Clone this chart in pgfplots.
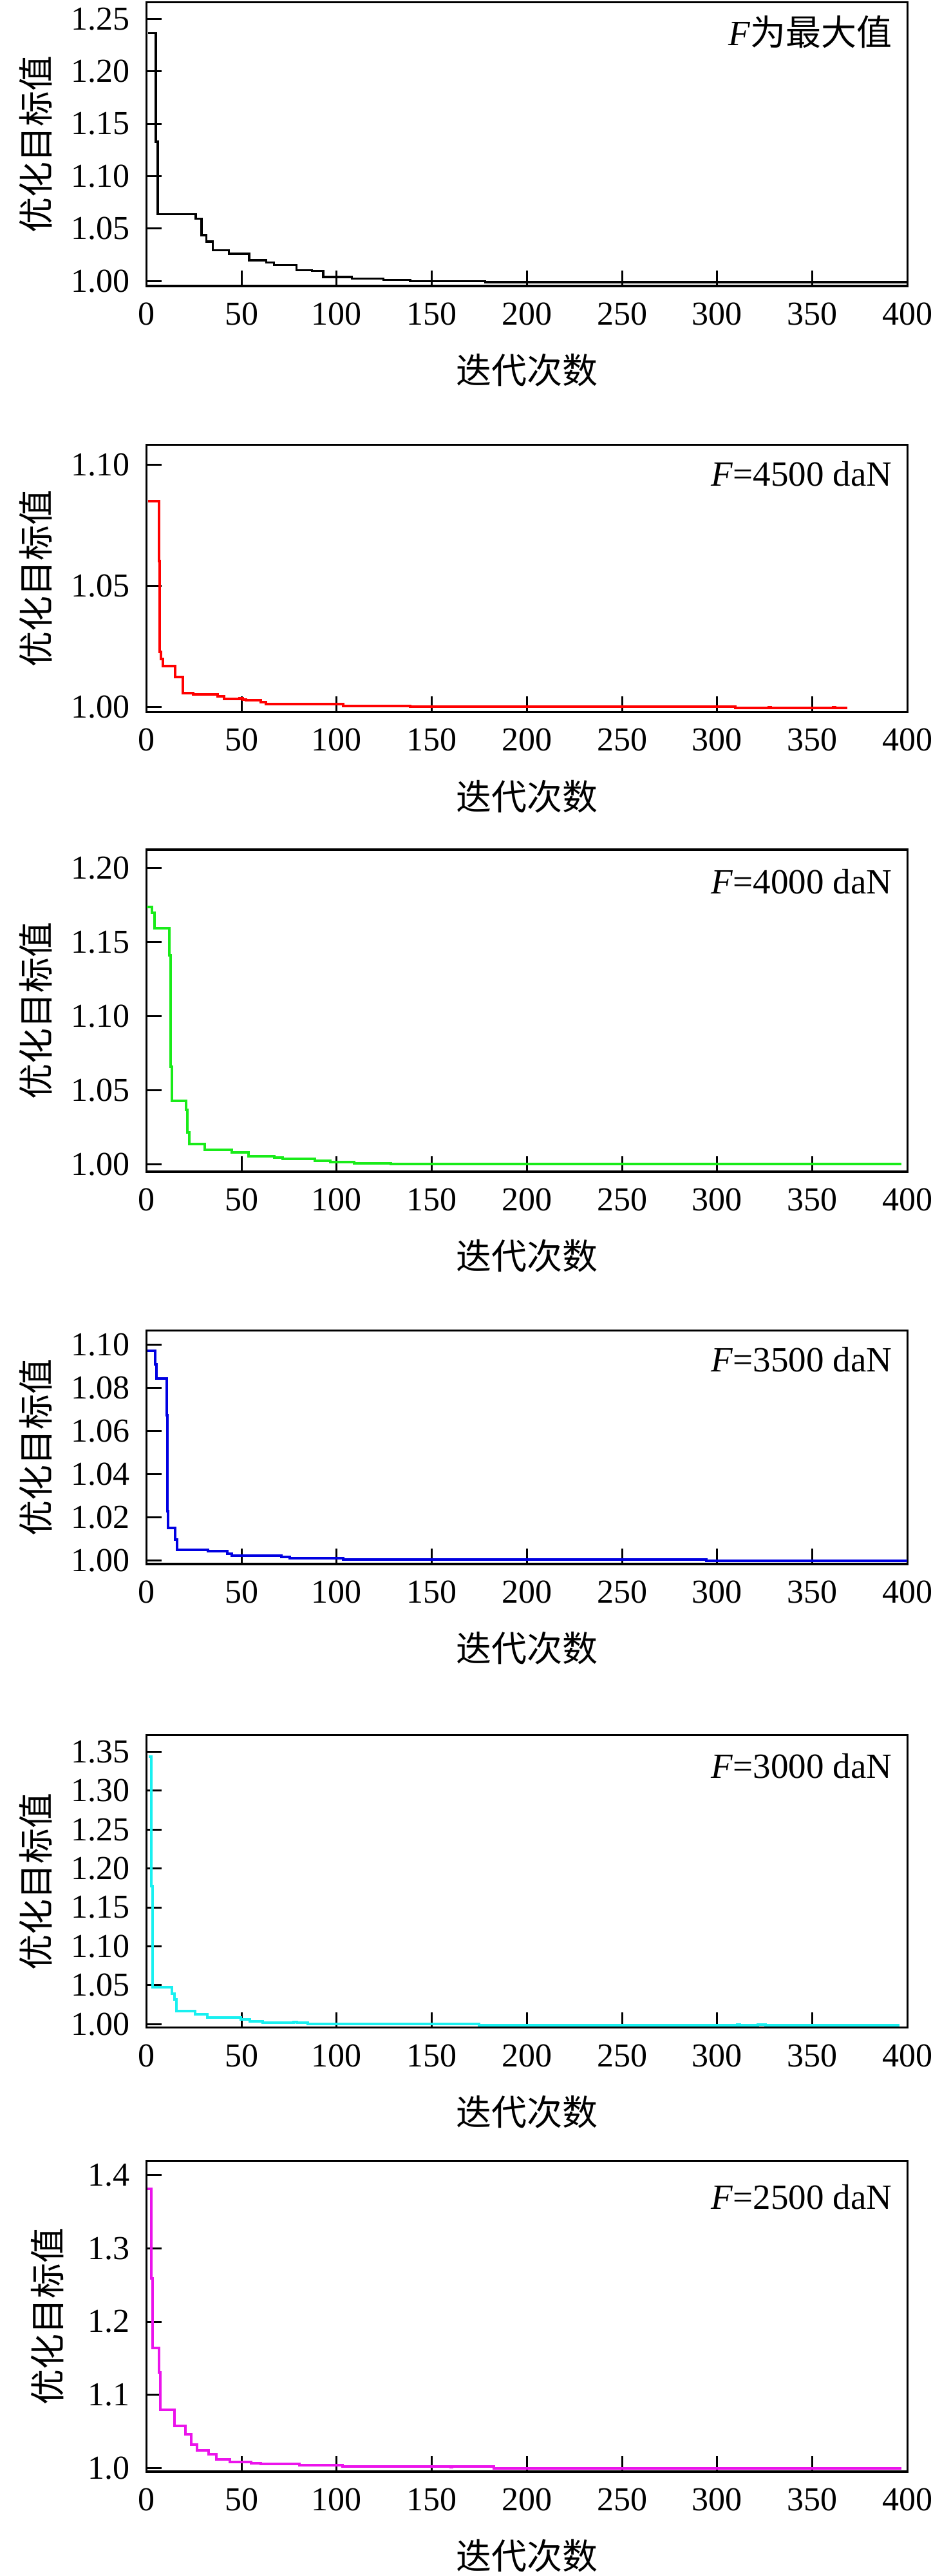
\documentclass[border=0pt]{standalone}
\usepackage{fontspec}
\setmainfont{Liberation Serif}
\newfontfamily\cjk{Noto Sans CJK SC}
\usepackage{pgfplots}
\pgfplotsset{compat=1.18}
\definecolor{cgreen}{RGB}{25,235,25}
\definecolor{cblue}{RGB}{0,0,225}
\definecolor{ccyan}{RGB}{25,240,240}
\definecolor{cmag}{RGB}{235,20,235}
\tikzset{plabel/.style={anchor=base east, inner sep=0pt, xshift=-4.6pt, font=\fontsize{11pt}{13pt}\selectfont}}
\pgfplotsset{
  panel/.style={
    scale only axis, width=236.4pt,
    xmin=0, xmax=400, xtick={0,50,...,400},
    tick align=inside, xtick pos=bottom, ytick pos=left,
    major tick length=4.8pt,
    axis line style={line width=0.66pt, black},
    tick style={line width=0.6pt, black},
    scaled ticks=false,
    /pgf/number format/assume math mode=true,
    ticklabel style={font=\fontsize{10.4pt}{12pt}\selectfont},
    yticklabel style={inner sep=0pt, anchor=east, xshift=-5pt,
      /pgf/number format/fixed, /pgf/number format/fixed zerofill, /pgf/number format/precision=2},
    xticklabel style={inner sep=0pt, anchor=north, yshift=-5pt},
    xlabel={\cjk 迭代次数},
    ylabel={\cjk 优化目标值},
    every axis x label/.style={at={(axis description cs:0.5,0)}, anchor=center, yshift=-26.2pt, font=\fontsize{11pt}{13pt}\selectfont},
    every axis y label/.style={at={(axis description cs:-0.1455,0.5)}, anchor=center, rotate=90, font=\fontsize{11pt}{13pt}\selectfont},
  },
}
\begin{document}
\begin{tikzpicture}
\path[use as bounding box] (0,0) rectangle (295.2pt,-799.8pt);
% Panel 1
\begin{axis}[panel, at={(45.46pt,-88.8pt)}, anchor=south west, height=88.14pt,
  ymin=0.9953, ymax=1.2660, ytick={1.00,1.05,1.10,1.15,1.20,1.25}]
\addplot[const plot, black, line width=0.66pt] coordinates {
(1,1.2362) (5,1.1329) (6,1.0639) (26,1.0596) (29,1.0438) (31.5,1.0377) (35,1.0295)
(43.5,1.0260) (54,1.0198) (63,1.0178) (67,1.0151) (79,1.0104) (87,1.0096) (93,1.0039)
(108,1.0022) (124.5,1.0012) (138.6,1.0000) (178,0.9990) (400,0.9990)};
\node[plabel, yshift=-13.5pt] at (rel axis cs:1,1) {\textit{F}\cjk 为最大值};
\end{axis}
% Panel 2
\begin{axis}[panel, at={(45.46pt,-221.06pt)}, anchor=south west, height=82.92pt,
  ymin=0.9979, ymax=1.1081, ytick={1.00,1.05,1.10}]
\addplot[const plot, red, line width=0.8pt] coordinates {
(1,1.0850) (6.5,1.0603) (7.1,1.0228) (7.7,1.0197) (8.8,1.0168) (15.2,1.0124) (19.3,1.0057)
(24.6,1.0052) (37.6,1.0043) (40.8,1.0032) (49,1.0036) (50.5,1.0030) (52.3,1.0027) (60.2,1.0021) (63,1.0011)
(103.6,1.0005) (138.6,1.0002) (309.4,0.9995) (327,0.9999) (328,0.9995) (361,0.9998) (362,0.9995) (368.3,0.9995)};
\node[plabel, yshift=-12.7pt] at (rel axis cs:1,1) {\textit{F}=4500 daN};
\end{axis}
% Panel 3
\begin{axis}[panel, at={(45.46pt,-363.8pt)}, anchor=south west, height=100pt,
  ymin=0.9949, ymax=1.2125, ytick={1.00,1.05,1.10,1.15,1.20}]
\addplot[const plot, cgreen, line width=0.8pt] coordinates {
(0.4,1.1739) (2.9,1.1700) (4.3,1.1594) (12.2,1.1410) (12.9,1.0660) (13.3,1.0429) (21.0,1.0368)
(21.7,1.0213) (22.6,1.0136) (30.6,1.0097) (44.9,1.0078) (53.6,1.0054) (67.2,1.0046) (71.7,1.0035)
(88.4,1.0024) (96.8,1.0014) (109.2,1.0007) (128.4,1.0000) (397,1.0000)};
\node[plabel, yshift=-13.7pt] at (rel axis cs:1,1) {\textit{F}=4000 daN};
\end{axis}
% Panel 4
\begin{axis}[panel, at={(45.46pt,-485.6pt)}, anchor=south west, height=72.54pt,
  ymin=0.9983, ymax=1.1066, ytick={1.00,1.02,1.04,1.06,1.08,1.10}]
\addplot[const plot, cblue, line width=0.8pt] coordinates {
(0.7,1.0972) (4.5,1.0910) (5.2,1.0843) (10.7,1.0673) (11.1,1.0229) (11.5,1.0149) (15.2,1.0096)
(16.2,1.0049) (32.5,1.0044) (42.7,1.0032) (44.9,1.0022) (71.1,1.0017) (75.2,1.0010)
(103.6,1.0004) (294.4,0.9998) (400,0.9998)};
\node[plabel, yshift=-12.8pt] at (rel axis cs:1,1) {\textit{F}=3500 daN};
\end{axis}
% Panel 5
\begin{axis}[panel, at={(45.46pt,-629.54pt)}, anchor=south west, height=90.88pt,
  ymin=0.9955, ymax=1.3715, ytick={1.00,1.05,1.10,1.15,1.20,1.25,1.30,1.35}]
\addplot[const plot, ccyan, line width=0.8pt] coordinates {
(1.1,1.3439) (2.7,1.1771) (3.2,1.0474) (13.3,1.0391) (14.7,1.0314) (15.8,1.0165) (25.5,1.0129)
(31.9,1.0083) (49.7,1.0060) (54.5,1.0038) (61.3,1.0019) (77.5,1.0026) (79,1.0019) (85,1.0005)
(175,0.9986) (310.5,0.9996) (312,0.9986) (321.5,0.9996) (325.6,0.9986) (395.7,0.9986)};
\node[plabel, yshift=-13.4pt] at (rel axis cs:1,1) {\textit{F}=3000 daN};
\end{axis}
% Panel 6
\begin{axis}[panel, at={(45.46pt,-767.4pt)}, anchor=south west, height=96.54pt,
  ymin=0.9953, ymax=1.4193, ytick={1.0,1.1,1.2,1.3,1.4},
  yticklabel style={/pgf/number format/precision=1},
  every axis y label/.append style={at={(axis description cs:-0.1303,0.5)}}]
\addplot[const plot, cmag, line width=0.8pt] coordinates {
(0.7,1.3807) (2.7,1.2592) (3.2,1.1640) (6.6,1.1304) (7.2,1.0800) (14.7,1.0580) (20.4,1.0463)
(23.7,1.0322) (26.6,1.0241) (32.8,1.0191) (36.8,1.0123) (43.8,1.0088) (54.9,1.0068) (60.2,1.0059)
(80.3,1.0038) (103,1.0024) (160,1.0012) (160.8,1.0024) (182.8,1.0000) (397,1.0000)};
\node[plabel, yshift=-15.1pt] at (rel axis cs:1,1) {\textit{F}=2500 daN};
\end{axis}
\end{tikzpicture}
\end{document}
